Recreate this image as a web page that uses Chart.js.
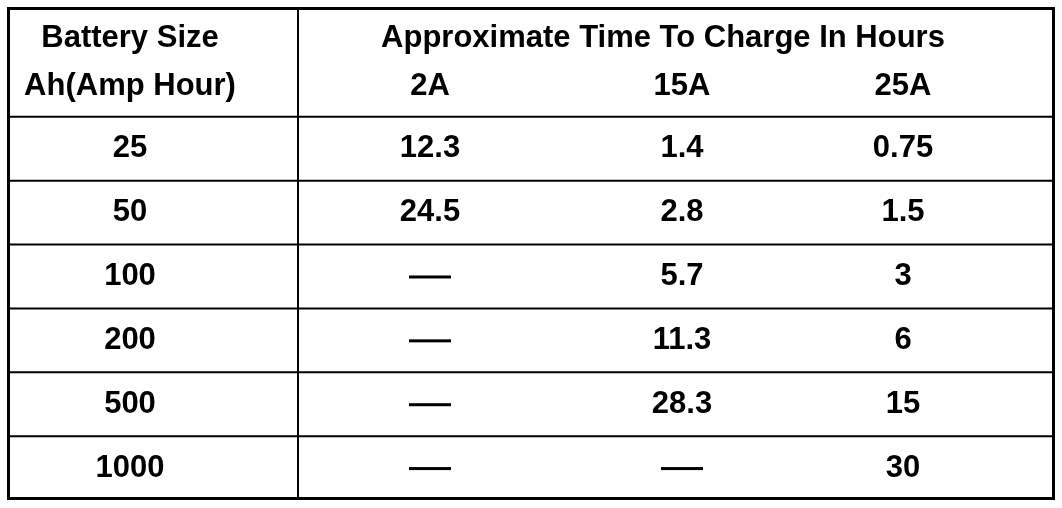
<!DOCTYPE html>
<html>
<head>
<meta charset="utf-8">
<script src="https://cdn.jsdelivr.net/npm/chart.js@4"></script>
<style>
  body { margin: 0; background: #fff; }
  #wrap { position: absolute; left: 7px; top: 7px; width: 1048px; height: 493px; }
</style>
</head>
<body>
<div id="wrap"><canvas id="tableChart"></canvas></div>
<script>
// table data
var batterySizes = ["25", "50", "100", "200", "500", "1000"];
var currents = ["2A", "15A", "25A"];
var time2A = ["12.3", "24.5", "—", "—", "—", "—"];
var time15A = ["1.4", "2.8", "5.7", "11.3", "28.3", "—"];
var time25A = ["0.75", "1.5", "3", "6", "15", "30"];

var headerRows = 1.72;   // header is taller than a body row
var font = "bold 31px 'Liberation Sans', Arial, sans-serif";

// column layout in x scale units (0..1048)
var colX = [123, 423, 675, 896];
var sepXVal = 291;
var titleX = 656;

// draws the table on top of hidden scales
var tablePlugin = {
    id: 'tablePlugin',
    afterDraw: function(chart) {
        var c = chart.ctx;
        var x = chart.scales.x, y = chart.scales.y;
        var area = chart.chartArea;
        var cols = [time2A, time15A, time25A];

        c.save();
        c.strokeStyle = '#000';
        c.lineWidth = 3;
        c.strokeRect(area.left + 1.5, area.top + 1.5, area.width - 3, area.height - 3);

        c.lineWidth = 2;
        c.beginPath();
        var sepX = x.getPixelForValue(sepXVal);
        c.moveTo(sepX, area.top);
        c.lineTo(sepX, area.bottom);
        for (var i = 0; i < batterySizes.length; i++) {
            var ly = y.getPixelForValue(headerRows + i);
            c.moveTo(area.left, ly);
            c.lineTo(area.right, ly);
        }
        c.stroke();

        c.fillStyle = '#000';
        c.font = font;
        c.textAlign = 'center';
        c.textBaseline = 'middle';

        // header
        c.fillText("Battery Size", x.getPixelForValue(colX[0]), y.getPixelForValue(0.5));
        c.fillText("Ah(Amp Hour)", x.getPixelForValue(colX[0]), y.getPixelForValue(1.25));
        c.fillText("Approximate Time To Charge In Hours", x.getPixelForValue(titleX), y.getPixelForValue(0.5));
        currents.forEach(function(lbl, j) {
            c.fillText(lbl, x.getPixelForValue(colX[j + 1]), y.getPixelForValue(1.25));
        });

        // body
        batterySizes.forEach(function(size, i) {
            var cy = y.getPixelForValue(headerRows + i + 0.5);
            c.fillText(size, x.getPixelForValue(colX[0]), cy);
            cols.forEach(function(col, j) {
                var v = col[i];
                var cx = x.getPixelForValue(colX[j + 1]);
                if (v === "—") {
                    c.fillRect(cx - 21, cy - 1, 42, 3);
                } else {
                    c.fillText(v, cx, cy);
                }
            });
        });
        c.restore();
    }
};

new Chart(document.getElementById('tableChart'), {
    type: 'scatter',
    data: { datasets: [{ data: [], pointRadius: 0 }] },
    options: {
        responsive: true,
        maintainAspectRatio: false,
        animation: false,
        layout: { padding: 0 },
        plugins: { legend: { display: false }, tooltip: { enabled: false } },
        scales: {
            x: { type: 'linear', display: false, min: 0, max: 1048 },
            y: { type: 'linear', display: false, min: 0, max: headerRows + batterySizes.length, reverse: true }
        }
    },
    plugins: [tablePlugin]
});
</script>
</body>
</html>
